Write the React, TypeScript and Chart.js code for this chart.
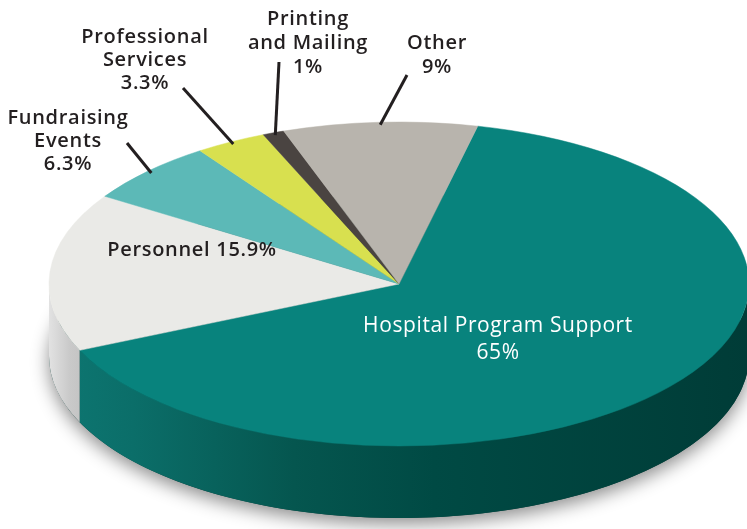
import React, { useEffect, useRef } from 'react';
import { Chart, registerables } from 'chart.js';

Chart.register(...registerables);

// ---- data ----
const CATEGORIES = [
  'Hospital Program Support',
  'Personnel',
  'Fundraising Events',
  'Professional Services',
  'Printing and Mailing',
  'Other',
];
const VALUES = [65, 15.9, 6.3, 3.3, 1, 9];
const LABEL_LINES = [
  ['Hospital Program Support', '65%'],
  ['Personnel 15.9%'],
  ['Fundraising', 'Events', '6.3%'],
  ['Professional', 'Services', '3.3%'],
  ['Printing', 'and Mailing', '1%'],
  ['Other', '9%'],
];

// ---- styles ----
const TOP_COLORS = ['#08837d', '#eaeae7', '#5cb9b7', '#d8e04f', '#4a4441', '#b8b4ad'];
const RIM_STOPS: [number, string][][] = [
  [[0, '#0d7772'], [0.12, '#0b6e69'], [0.35, '#05564f'], [0.55, '#004a44'], [1, '#003c37']],
  [[0, '#e2e2e2'], [0.03, '#c9c9c9'], [0.08, '#b8b8b8'], [1, '#a0a0a0']],
  [[0, '#4a9896'], [1, '#3a8482']],
  [[0, '#b1b83c'], [1, '#a0a636']],
  [[0, '#383331'], [1, '#2d2927']],
  [[0, '#99958e'], [1, '#8a867f']],
];

// layout of the 3D view and label anchors
const CX = 399;
const CY = 284;
const RX = 350;
const RY = 162;
const DEPTH = 72;
const LABEL_POS = [
  { x: 498, y: 326, lh: 27, color: '#ffffff', weight: 500, size: 21, spacing: '0.6px' },
  { x: 192, y: 250, lh: 23, color: '#231f20', weight: 600, size: 20, spacing: '0.7px' },
  { x: 68, y: 118, lh: 23, color: '#231f20', weight: 600, size: 20, spacing: '0.7px' },
  { x: 145, y: 37, lh: 23, color: '#231f20', weight: 600, size: 20, spacing: '0.7px' },
  { x: 308, y: 19, lh: 24, color: '#231f20', weight: 600, size: 20, spacing: '0.7px' },
  { x: 437, y: 43, lh: 24, color: '#231f20', weight: 600, size: 20, spacing: '0.7px' },
];
const LEADER_START: ({ x: number; y: number } | null)[] = [
  null,
  null,
  { x: 127, y: 143 },
  { x: 183, y: 88 },
  { x: 279, y: 62 },
  { x: 407, y: 75 },
];

export default function App() {
  const ref = useRef<HTMLCanvasElement>(null);

  useEffect(() => {
    const canvas = ref.current!;
    const TAU = Math.PI * 2;

    const pie3d = {
      id: 'pie3d',
      beforeDatasetsDraw(chart: any) {
        const ctx: CanvasRenderingContext2D = chart.ctx;
        const arcs = chart.getDatasetMeta(0).data;

        // soft shadow under the disc
        ctx.save();
        ctx.shadowColor = 'rgba(0,0,0,0.45)';
        ctx.shadowBlur = 18;
        ctx.shadowOffsetY = 6;
        ctx.fillStyle = '#0a3b37';
        ctx.beginPath();
        ctx.ellipse(CX, CY + DEPTH, RX, RY, 0, 0, TAU);
        ctx.fill();
        ctx.restore();

        // side walls (front half only)
        arcs.forEach((arc: any, i: number) => {
          const { startAngle, endAngle } = arc.getProps(['startAngle', 'endAngle'], true);
          for (let k = -1; k <= 2; k++) {
            const lo = Math.max(startAngle, k * TAU);
            const hi = Math.min(endAngle, k * TAU + Math.PI);
            if (hi <= lo) continue;
            const g = ctx.createLinearGradient(CX - RX, 0, CX + RX, 0);
            RIM_STOPS[i].forEach(([o, c]) => g.addColorStop(o, c));
            ctx.beginPath();
            ctx.ellipse(CX, CY, RX, RY, 0, lo, hi, false);
            ctx.ellipse(CX, CY + DEPTH, RX, RY, 0, hi, lo, true);
            ctx.closePath();
            ctx.fillStyle = g;
            ctx.fill();
          }
        });

        // squash the library's pie into the top face ellipse
        const a0 = arcs[0];
        const { x, y, outerRadius } = a0.getProps(['x', 'y', 'outerRadius'], true);
        ctx.save();
        ctx.translate(CX, CY);
        ctx.scale(RX / outerRadius, RY / outerRadius);
        ctx.translate(-x, -y);
      },
      afterDatasetsDraw(chart: any) {
        const ctx: CanvasRenderingContext2D = chart.ctx;
        ctx.restore();
        const arcs = chart.getDatasetMeta(0).data;

        // leader lines
        ctx.save();
        ctx.strokeStyle = '#231f20';
        ctx.lineWidth = 3;
        arcs.forEach((arc: any, i: number) => {
          const s = LEADER_START[i];
          if (!s) return;
          const { startAngle, endAngle } = arc.getProps(['startAngle', 'endAngle'], true);
          const m = (startAngle + endAngle) / 2;
          const ex = CX + RX * 0.985 * Math.cos(m);
          const ey = CY + RY * 0.985 * Math.sin(m);
          ctx.beginPath();
          ctx.moveTo(s.x, s.y);
          ctx.lineTo(ex, ey);
          ctx.stroke();
        });
        ctx.restore();

        // labels
        ctx.save();
        ctx.textAlign = 'center';
        ctx.textBaseline = 'middle';
        LABEL_LINES.forEach((lines, i) => {
          const p = LABEL_POS[i];
          ctx.font = `${p.weight} ${p.size}px "Open Sans"`;
          (ctx as any).letterSpacing = p.spacing;
          ctx.fillStyle = p.color;
          lines.forEach((t, j) => ctx.fillText(t, p.x, p.y + j * p.lh));
        });
        ctx.restore();
      },
    };

    const chart = new Chart(canvas, {
      type: 'pie',
      data: {
        labels: CATEGORIES,
        datasets: [
          {
            data: VALUES,
            backgroundColor: TOP_COLORS,
            borderColor: TOP_COLORS,
            borderWidth: 0.5,
            clip: false as any,
          },
        ],
      },
      options: {
        responsive: false,
        animation: false,
        events: [],
        rotation: 13,
        layout: { padding: 0 },
        plugins: {
          legend: { display: false },
          tooltip: { enabled: false },
        },
      },
      plugins: [pie3d],
    });
    return () => chart.destroy();
  }, []);

  return (
    <div style={{ position: 'absolute', left: 0, top: 0, width: 747, height: 529, background: '#fff' }}>
      <canvas ref={ref} width={747} height={529} />
    </div>
  );
}
